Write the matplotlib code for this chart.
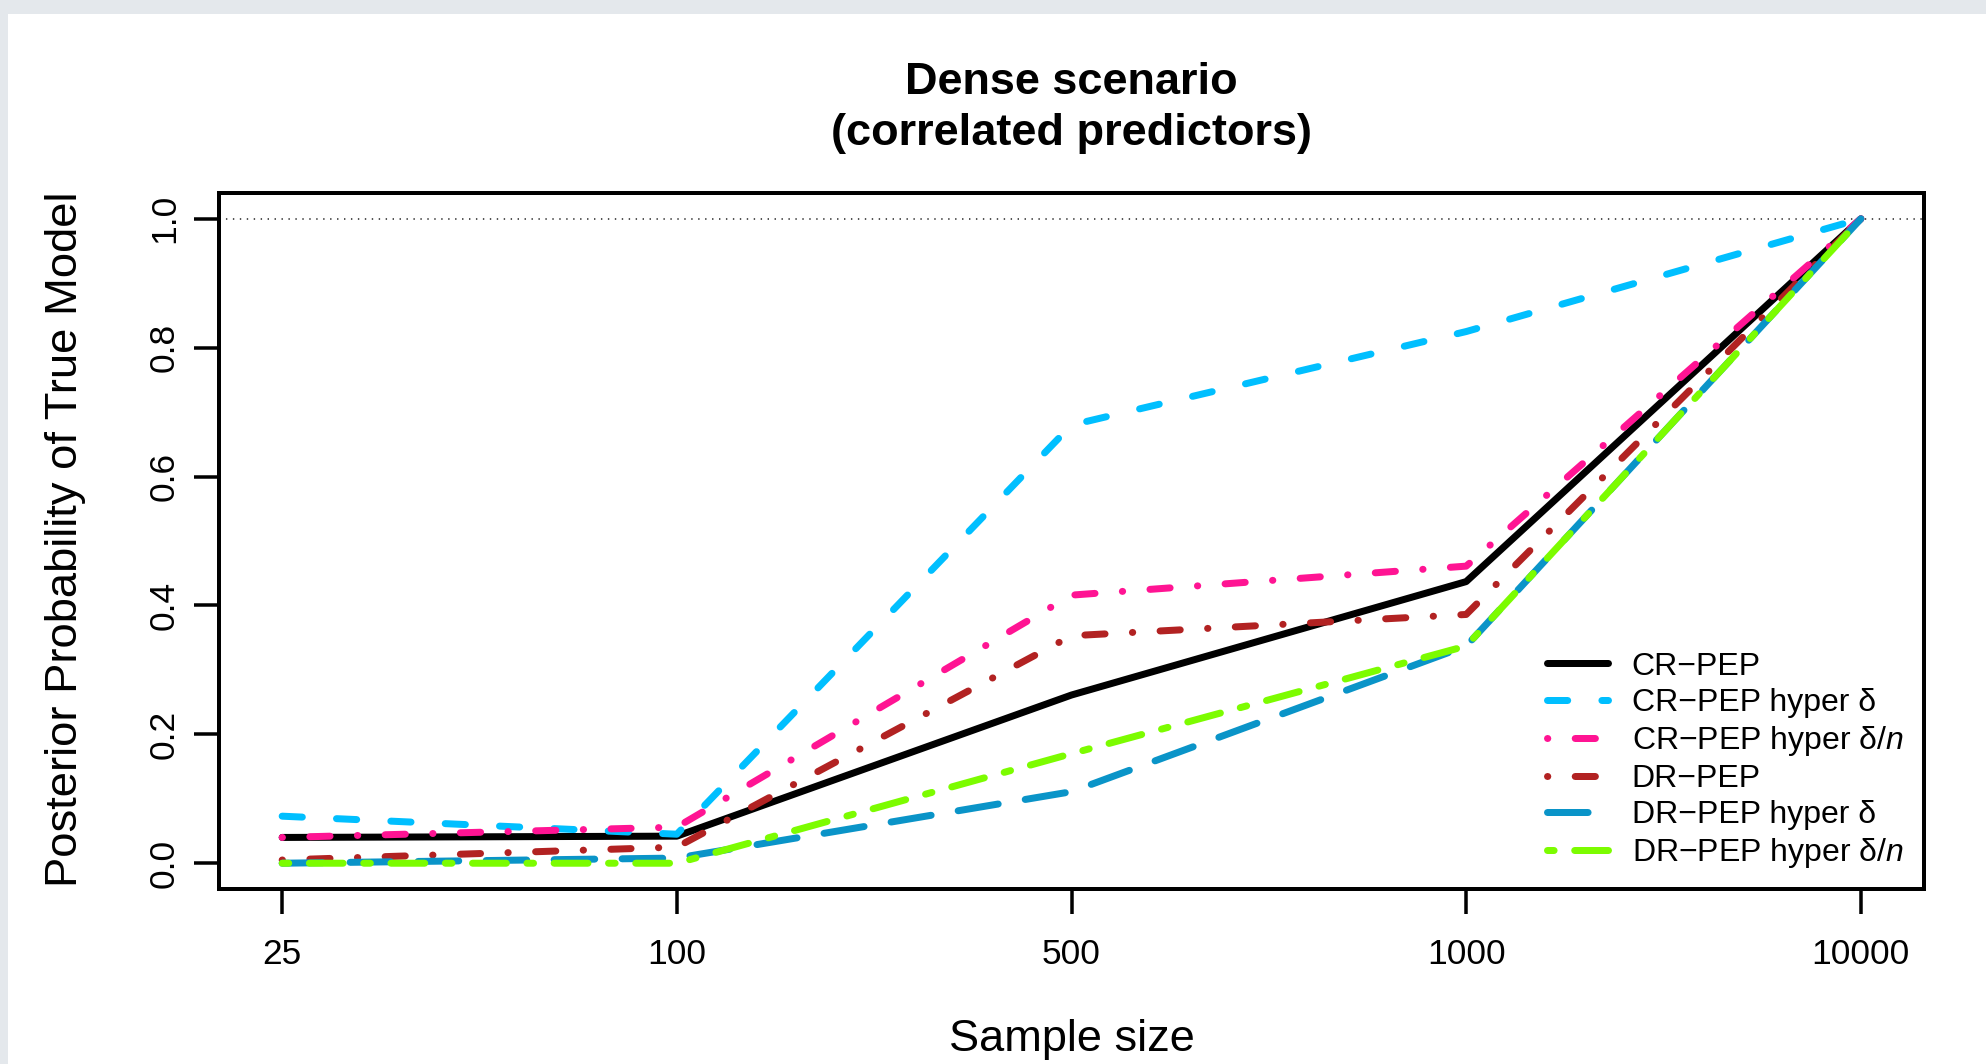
import matplotlib
matplotlib.use("Agg")
import matplotlib.pyplot as plt
from matplotlib.patches import Rectangle

# ---------------- data ----------------
sample_sizes = ["25", "100", "500", "1000", "10000"]
cr_pep      = [0.040, 0.042, 0.261, 0.437, 1.0]
cr_pep_hd   = [0.073, 0.045, 0.680, 0.825, 1.0]
cr_pep_hdn  = [0.040, 0.056, 0.416, 0.461, 1.0]
dr_pep      = [0.005, 0.025, 0.353, 0.386, 1.0]
dr_pep_hd   = [0.000, 0.008, 0.111, 0.337, 1.0]
dr_pep_hdn  = [0.000, 0.000, 0.170, 0.337, 1.0]

labels = ["CR\u2212PEP", "CR\u2212PEP hyper \u03b4", "CR\u2212PEP hyper \u03b4/$\\mathit{n}$",
          "DR\u2212PEP", "DR\u2212PEP hyper \u03b4", "DR\u2212PEP hyper \u03b4/$\\mathit{n}$"]
colors = ["#000000", "#00BFFF", "#FF1493", "#B22222", "#0A94C8", "#7CFC00"]

plt.rcParams['font.family'] = ['Liberation Sans', 'DejaVu Sans']
plt.rcParams['mathtext.fontset'] = 'custom'
plt.rcParams['mathtext.it'] = 'Liberation Sans:italic'
plt.rcParams['mathtext.rm'] = 'Liberation Sans'
plt.rcParams['lines.scale_dashes'] = False

DPI = 100
fig = plt.figure(figsize=(19.86, 10.64), dpi=DPI)
fig.patch.set_facecolor('#E4E8EC')
fig.patches.append(Rectangle((8/1986, 0), 1, 1 - 14/1064, transform=fig.transFigure,
                             facecolor='white', edgecolor='none', zorder=-10))

ax = fig.add_axes([219/1986, 1 - 889/1064, (1924-219)/1986, (889-193)/1064])
ax.set_facecolor('white')

px = 72.0 / DPI           # points per pixel
lw_px = 7.0
lw = lw_px * px
unit = 6.8                # R dash unit in pixels

def pat(seq):
    out = []
    for i, s in enumerate(seq):
        v = s * unit
        if i % 2 == 0:
            v = max(v - lw_px, 0.3)
        else:
            v = v + lw_px
        out.append(v * px)
    return (0, tuple(out))

styles = ['-', pat([4, 4]), pat([1, 3, 4, 3]), pat([1, 3, 4, 3]), pat([7, 3]), pat([2, 2, 6, 2])]
series = [cr_pep, cr_pep_hd, cr_pep_hdn, dr_pep, dr_pep_hd, dr_pep_hdn]

x = list(range(1, len(sample_sizes) + 1))
ax.axhline(1.0, color='#444444', lw=1.3, linestyle=(0, (1.0, 4.0)), zorder=1)
for ys, c, ls, lab in zip(series, colors, styles, labels):
    ax.plot(x, ys, color=c, lw=lw, linestyle=ls, label=lab,
            solid_capstyle='round', dash_capstyle='round', solid_joinstyle='round', zorder=3)

ax.set_xlim(0.84, 5.16)
ax.set_ylim(-0.04, 1.04)
ax.set_xticks(x)
ax.set_xticklabels(sample_sizes)
ax.set_yticks([0.0, 0.2, 0.4, 0.6, 0.8, 1.0])
ax.set_yticklabels(["0.0", "0.2", "0.4", "0.6", "0.8", "1.0"])
for s in ax.spines.values():
    s.set_linewidth(4.0 * px)
ax.tick_params(axis='both', direction='out', length=25 * px, width=3.5 * px,
               labelsize=25.5, colors='black')
ax.tick_params(axis='x', pad=24 * px)
ax.tick_params(axis='y', pad=13 * px, labelrotation=90)
for t in ax.get_yticklabels():
    t.set_verticalalignment('center')

# titles and axis labels
xc = (219 + 1924) / 2 / 1986
fig.text(xc, 1 - 82/1064, "Dense scenario", ha='center', va='center',
         fontsize=32.5, fontweight='bold')
fig.text(xc, 1 - 133/1064, "(correlated predictors)", ha='center', va='center',
         fontsize=32.5, fontweight='bold')
fig.text(xc, 1 - 1040/1064, "Sample size", ha='center', va='center', fontsize=32.5)
fig.text(66/1986, 1 - 539/1064, "Posterior Probability of True Model", ha='center',
         va='center', rotation=90, fontsize=32.7)

leg = ax.legend(loc='upper left', bbox_to_anchor=(0.779, 0.341), frameon=False,
                fontsize=23, handlelength=1.9, handletextpad=0.75, labelspacing=0.19,
                borderpad=0, borderaxespad=0)

fig.savefig("out.png", dpi=DPI, facecolor=fig.get_facecolor())
